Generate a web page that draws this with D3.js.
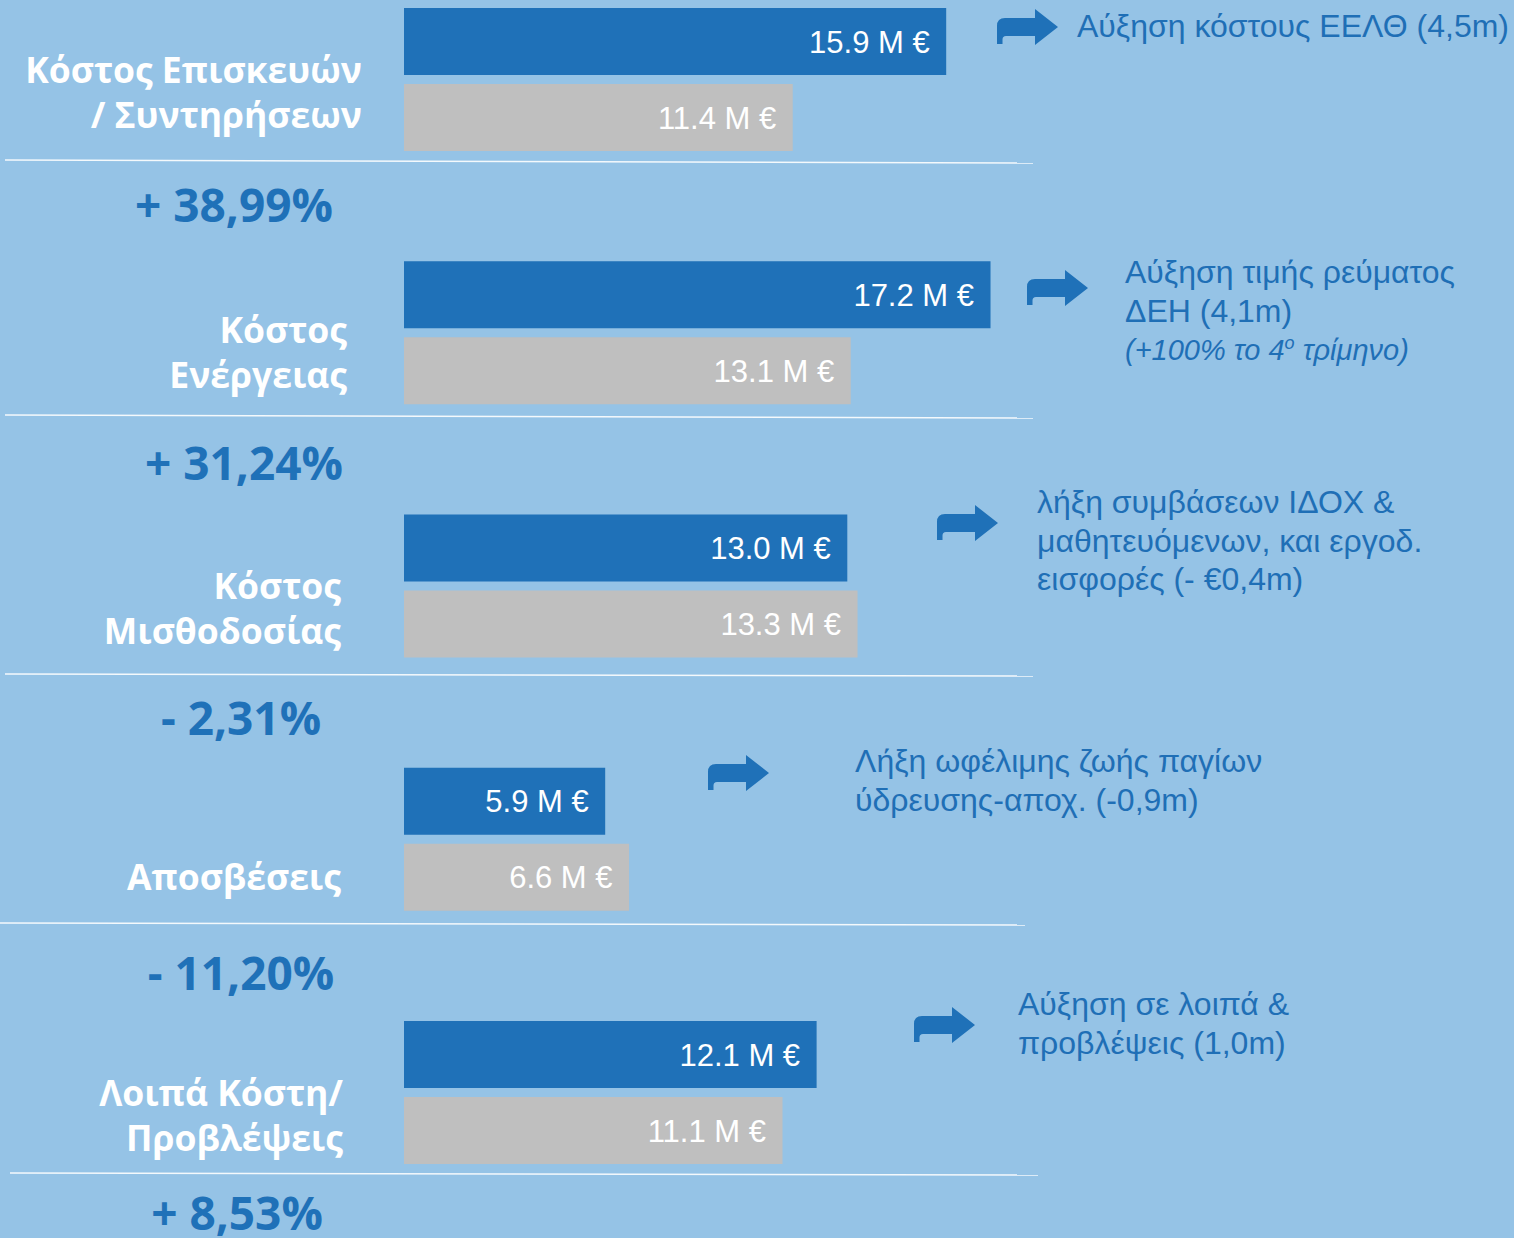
<!DOCTYPE html>
<html>
<head>
<meta charset="utf-8">
<script src="https://cdn.jsdelivr.net/npm/d3@7"></script>
<style>
  body { margin: 0; background: #95c3e6; }
  svg { display: block; }
</style>
</head>
<body>
<div id="chart"></div>
<script>
const W = 1514, H = 1238;

// data
const categories = ['repairs', 'energy', 'payroll', 'depreciation', 'other'];
const categoryLabels = [
  ['Κόστος Επισκευών', '/ Συντηρήσεων'],
  ['Κόστος', 'Ενέργειας'],
  ['Κόστος', 'Μισθοδοσίας'],
  ['Αποσβέσεις'],
  ['Λοιπά Κόστη/', 'Προβλέψεις']
];
const currentYear = [15.9, 17.2, 13.0, 5.9, 12.1];
const previousYear = [11.4, 13.1, 13.3, 6.6, 11.1];
const changeLabels = ['+ 38,99%', '+ 31,24%', '- 2,31%', '- 11,20%', '+ 8,53%'];
const notes = [
  ['Αύξηση κόστους ΕΕΛΘ (4,5m)'],
  ['Αύξηση τιμής ρεύματος', 'ΔΕΗ (4,1m)'],
  ['λήξη συμβάσεων ΙΔΟΧ &', 'μαθητευόμενων, και εργοδ.', 'εισφορές (- €0,4m)'],
  ['Λήξη ωφέλιμης ζωής παγίων', 'ύδρευσης-αποχ. (-0,9m)'],
  ['Αύξηση σε λοιπά &', 'προβλέψεις (1,0m)']
];

// layout (positions only)
const labelRight = [362, 347, 341, 341, 343];
const labelBase = [83, 343, 599, 890, 1106];
const pctCenter = [234, 244, 241, 241, 237];
const pctBase = [222, 480, 735, 990, 1230];
const arrowPos = [[997, 9], [1027, 270], [937, 505], [708, 755], [914, 1007]];
const notePos = [[1077, 37], [1125, 283], [1037, 513], [855, 772], [1018, 1015]];
const sepLines = [[5, 160, 1033, 163], [5, 415, 1033, 418], [5, 674, 1033, 676], [0, 923, 1025, 925], [10, 1173, 1038, 1175]];

const darkBlue = '#1f71b8', grey = '#bfbfbf', textBlue = '#1f6fb6';

const svg = d3.select('#chart').append('svg').attr('width', W).attr('height', H);
svg.append('rect').attr('width', W).attr('height', H).attr('fill', '#95c3e6');

const x = d3.scaleLinear().domain([0, 20]).range([404, 1086]);
const y = d3.scaleBand().domain(categories).range([8, 8 + 5 * 253.25]);
const ySub = d3.scaleBand().domain(['current', 'previous']).range([0, 143]).paddingInner(9 / 76);

const rows = categories.map((c, i) => ({
  key: c,
  bars: [
    { series: 'current', value: currentYear[i], fill: darkBlue },
    { series: 'previous', value: previousYear[i], fill: grey }
  ]
}));

// separator lines
svg.selectAll('.sep').data(sepLines).join('line')
  .attr('class', 'sep')
  .attr('x1', d => d[0]).attr('y1', d => d[1])
  .attr('x2', d => d[2]).attr('y2', d => d[3])
  .attr('stroke', '#ffffff').attr('stroke-width', 1.6).attr('opacity', 0.9);

// bars
const groups = svg.selectAll('.group').data(rows).join('g')
  .attr('class', 'group')
  .attr('transform', d => `translate(0,${y(d.key)})`);

groups.selectAll('rect').data(d => d.bars).join('rect')
  .attr('x', x(0))
  .attr('y', d => ySub(d.series))
  .attr('width', d => x(d.value) - x(0))
  .attr('height', ySub.bandwidth())
  .attr('fill', d => d.fill);

groups.selectAll('.val').data(d => d.bars).join('text')
  .attr('class', 'val')
  .attr('x', d => x(d.value) - 16.5)
  .attr('y', d => ySub(d.series) + ySub.bandwidth() / 2 + 11)
  .attr('text-anchor', 'end')
  .attr('fill', '#ffffff')
  .style('font-family', '"Liberation Sans", Arial, sans-serif')
  .style('font-size', '31px')
  .text(d => d3.format('.1f')(d.value) + ' M €');

// category labels
categoryLabels.forEach((lines, i) => {
  const t = svg.append('text')
    .attr('text-anchor', 'end')
    .attr('fill', '#ffffff')
    .style('font-family', '"Open Sans", sans-serif')
    .style('font-weight', 700)
    .style('font-size', '35.5px');
  lines.forEach((l, j) => {
    t.append('tspan').attr('x', labelRight[i]).attr('y', labelBase[i] + j * 44.5).text(l);
  });
});

// percent changes
svg.selectAll('.pct').data(changeLabels).join('text')
  .attr('class', 'pct')
  .attr('x', (d, i) => pctCenter[i])
  .attr('y', (d, i) => pctBase[i])
  .attr('text-anchor', 'middle')
  .attr('fill', darkBlue)
  .style('font-family', '"Open Sans", sans-serif')
  .style('font-weight', 700)
  .style('font-size', '46px')
  .text(d => d);

// arrows
const arrowPath = 'M0,35 L0,17 Q0,9 8,9 L38,9 L38,0 L61,18 L38,36 L38,27 L9,27 Q5.5,27 5.5,30.5 L5.5,35 Z';
svg.selectAll('.arrow').data(arrowPos).join('path')
  .attr('class', 'arrow')
  .attr('d', arrowPath)
  .attr('transform', d => `translate(${d[0]},${d[1]})`)
  .attr('fill', darkBlue);

// notes
notes.forEach((lines, i) => {
  const t = svg.append('text')
    .attr('fill', textBlue)
    .style('font-family', '"Liberation Sans", Arial, sans-serif')
    .style('font-size', '32px');
  lines.forEach((l, j) => {
    t.append('tspan').attr('x', notePos[i][0]).attr('y', notePos[i][1] + j * 38.5).text(l);
  });
  if (i === 1) {
    const it = t.append('tspan')
      .attr('x', notePos[i][0]).attr('y', notePos[i][1] + 77)
      .style('font-style', 'italic').style('font-size', '29px');
    it.append('tspan').text('(+100% το 4');
    it.append('tspan').attr('dy', -11).style('font-size', '18px').text('ο');
    it.append('tspan').attr('dy', 11).text(' τρίμηνο)');
  }
});
</script>
</body>
</html>
